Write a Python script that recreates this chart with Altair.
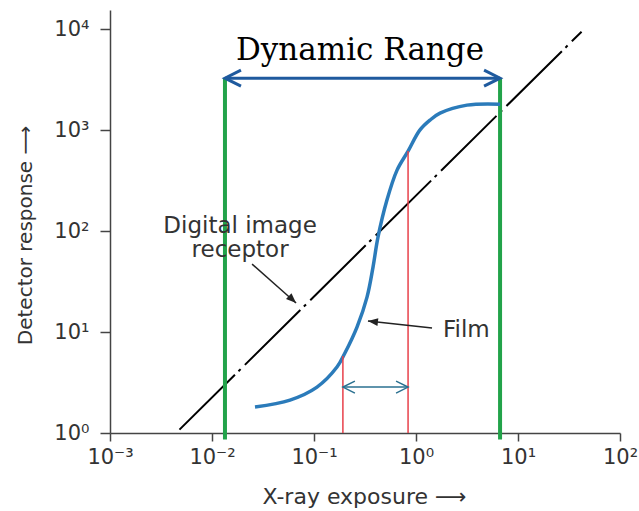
import json
import altair as alt
import pandas as pd

# ---------------- data ----------------
x_ticks = [0.001, 0.01, 0.1, 1, 10, 100]
x_tick_labels = ["10⁻³", "10⁻²", "10⁻¹", "10⁰", "10¹", "10²"]
y_ticks = [1, 10, 100, 1000, 10000]
y_tick_labels = ["10⁰", "10¹", "10²", "10³", "10⁴"]

# digital image receptor (linear response)
digital_x = [0.0048, 42.0]
digital_y = [1.08, 9450.0]

# film characteristic curve
film_x = [0.0264, 0.0582, 0.107, 0.168, 0.201, 0.264, 0.331, 0.379, 0.424,
          0.519, 0.652, 0.836, 1.09, 1.37, 1.72, 3.16, 6.67]
film_y = [1.81, 2.12, 2.85, 4.50, 6.2, 11.2, 22.2, 44, 87,
          203, 402, 620, 1000, 1256, 1473, 1770, 1810]

# film latitude (red markers)
latitude_x = [0.192, 0.836]
latitude_top = [5.8, 620]
latitude_arrow_y = [2.85, 2.85]

# dynamic range of the digital receptor (green markers)
dynamic_x = [0.0134, 6.67]
dynamic_top = [3272, 3272]
dynamic_bottom = [0.86, 0.86]
dynamic_label = ["Dynamic Range"]
dynamic_label_x = [0.2825]
dynamic_label_y = [4932]

# annotations
digital_label = ["Digital image", "receptor"]
digital_label_x = [0.01884, 0.01884]
digital_label_y = [95.5, 55.3]
film_label = ["Film"]
film_label_x = [1.84]
film_label_y = [8.9]
digital_ptr = {"x": [0.0247], "y": [47.1], "x2": [0.0667], "y2": [19.4]}
film_ptr = {"x": [1.436], "y": [10.96], "x2": [0.338], "y2": [12.85]}

# ---------------- scales / helpers ----------------
XS = alt.Scale(type="log", domain=[0.001, 100], nice=False)
YS = alt.Scale(type="log", domain=[1, 15500], nice=False)
FONT = "DejaVu Sans"

x_expr = "%s[round(log(datum.value)/LN10)+3]" % json.dumps(x_tick_labels, ensure_ascii=False)
y_expr = "%s[round(log(datum.value)/LN10)]" % json.dumps(y_tick_labels, ensure_ascii=False)

x_axis = alt.Axis(values=x_ticks, labelExpr=x_expr, grid=False, tickSize=8,
                  labelFontSize=21, labelFont=FONT, labelColor="#333",
                  labelFlush=False, labelOverlap=False, labelPadding=5,
                  domainColor="#444", domainWidth=1.5, tickColor="#444", tickWidth=1.5,
                  title="X-ray exposure ⟶", titleFont=FONT, titleFontSize=22,
                  titleFontWeight="normal", titleColor="#333",
                  titleX=254, titleY=70, titleAlign="center", titleBaseline="alphabetic")
y_axis = alt.Axis(values=y_ticks, labelExpr=y_expr, grid=False, tickSize=10,
                  labelFontSize=21, labelFont=FONT, labelColor="#333",
                  labelFlush=False, labelOverlap=False, labelPadding=11,
                  labelBaseline="middle",
                  domainColor="#444", domainWidth=1.5, tickColor="#444", tickWidth=1.5,
                  title="Detector response ⟶", titleFont=FONT, titleFontSize=20,
                  titleFontWeight="normal", titleColor="#333",
                  titleX=-85, titleY=225, titleAngle=-90, titleAlign="center",
                  titleBaseline="middle")


def X(f="x"):
    return alt.X(f"{f}:Q", scale=XS, axis=x_axis)


def Y(f="y"):
    return alt.Y(f"{f}:Q", scale=YS, axis=y_axis)


# ---------------- layers ----------------
digital = alt.Chart(pd.DataFrame({"x": digital_x, "y": digital_y})).mark_line(
    color="black", strokeWidth=2, strokeDash=[78, 5, 3, 6]
).encode(x=X(), y=Y())

film = alt.Chart(pd.DataFrame({"x": film_x, "y": film_y})).mark_line(
    color="#2b7bba", strokeWidth=3.5, interpolate="catmull-rom"
).encode(x=X(), y=Y())

lat_df = pd.DataFrame({"x": latitude_x, "y": latitude_top, "bot": [1, 1]})
latitude = alt.Chart(lat_df).mark_rule(color="#e8404a", strokeWidth=1.5).encode(
    x=X(), y=Y(), y2="bot:Q")

lat_arrow_df = pd.DataFrame({"x": [latitude_x[0]], "x2": [latitude_x[1]], "y": [latitude_arrow_y[0]]})
lat_arrow = alt.Chart(lat_arrow_df).mark_rule(color="#2a7090", strokeWidth=1.5).encode(
    x=X(), x2="x2:Q", y=Y())
lat_heads_l = alt.Chart(pd.DataFrame({"x": [latitude_x[0]], "y": [latitude_arrow_y[0]]})).mark_point(
    shape="M 1 -0.5 L 0 0 L 1 0.5", filled=False, size=576, strokeWidth=1.5,
    color="#2a7090", opacity=1).encode(x=X(), y=Y())
lat_heads_r = alt.Chart(pd.DataFrame({"x": [latitude_x[1]], "y": [latitude_arrow_y[1]]})).mark_point(
    shape="M -1 -0.5 L 0 0 L -1 0.5", filled=False, size=576, strokeWidth=1.5,
    color="#2a7090", opacity=1).encode(x=X(), y=Y())

dyn_df = pd.DataFrame({"x": dynamic_x, "y": dynamic_top, "bot": dynamic_bottom})
dyn_rules = alt.Chart(dyn_df).mark_rule(color="#22a34a", strokeWidth=4).encode(
    x=X(), y=Y(), y2="bot:Q")

dyn_arrow_df = pd.DataFrame({"x": [dynamic_x[0]], "x2": [dynamic_x[1]], "y": [dynamic_top[0]]})
dyn_arrow = alt.Chart(dyn_arrow_df).mark_rule(color="#1f5a9e", strokeWidth=3).encode(
    x=X(), x2="x2:Q", y=Y())
dyn_head_l = alt.Chart(pd.DataFrame({"x": [dynamic_x[0]], "y": [dynamic_top[0]]})).mark_point(
    shape="M 1 -0.5 L 0 0 L 1 0.5", filled=False, size=1024, strokeWidth=3,
    color="#1f5a9e", opacity=1).encode(x=X(), y=Y())
dyn_head_r = alt.Chart(pd.DataFrame({"x": [dynamic_x[1]], "y": [dynamic_top[1]]})).mark_point(
    shape="M -1 -0.5 L 0 0 L -1 0.5", filled=False, size=1024, strokeWidth=3,
    color="#1f5a9e", opacity=1).encode(x=X(), y=Y())

dyn_text = alt.Chart(pd.DataFrame({"t": dynamic_label, "x": dynamic_label_x, "y": dynamic_label_y})).mark_text(
    font="DejaVu Serif", fontSize=31, color="black", align="center", baseline="alphabetic"
).encode(x=X(), y=Y(), text="t:N")

dig_text = alt.Chart(pd.DataFrame({"t": digital_label, "x": digital_label_x, "y": digital_label_y})).mark_text(
    font=FONT, fontSize=23, color="#333", align="center", baseline="alphabetic"
).encode(x=X(), y=Y(), text="t:N")

film_text = alt.Chart(pd.DataFrame({"t": film_label, "x": film_label_x, "y": film_label_y})).mark_text(
    font=FONT, fontSize=23, color="#333", align="left", baseline="alphabetic"
).encode(x=X(), y=Y(), text="t:N")

dptr = alt.Chart(pd.DataFrame(digital_ptr)).mark_rule(color="#222", strokeWidth=1.5).encode(
    x=X(), y=Y(), x2="x2:Q", y2="y2:Q")
dptr_head = alt.Chart(pd.DataFrame({"x": digital_ptr["x2"], "y": digital_ptr["y2"]})).mark_point(
    shape="M 0 0 L 0.4 1 L -0.4 1 Z", filled=True, size=400, angle=133,
    color="#222", opacity=1).encode(x=X(), y=Y())

fptr = alt.Chart(pd.DataFrame(film_ptr)).mark_rule(color="#222", strokeWidth=1.5).encode(
    x=X(), y=Y(), x2="x2:Q", y2="y2:Q")
fptr_head = alt.Chart(pd.DataFrame({"x": film_ptr["x2"], "y": film_ptr["y2"]})).mark_point(
    shape="M 0 0 L 0.4 1 L -0.4 1 Z", filled=True, size=400, angle=276,
    color="#222", opacity=1).encode(x=X(), y=Y())

chart = alt.layer(
    digital, dyn_rules, film, latitude, lat_arrow, lat_heads_l, lat_heads_r,
    dyn_arrow, dyn_head_l, dyn_head_r, dyn_text, dig_text, film_text,
    dptr, dptr_head, fptr, fptr_head
).properties(
    width=510, height=423,
    autosize=alt.AutoSizeParams(type="none"),
    padding={"left": 110, "top": 10, "right": 19, "bottom": 78},
    background="white",
).configure_view(stroke=None)

chart.save("out.html", embed_options={"renderer": "svg", "actions": False})
